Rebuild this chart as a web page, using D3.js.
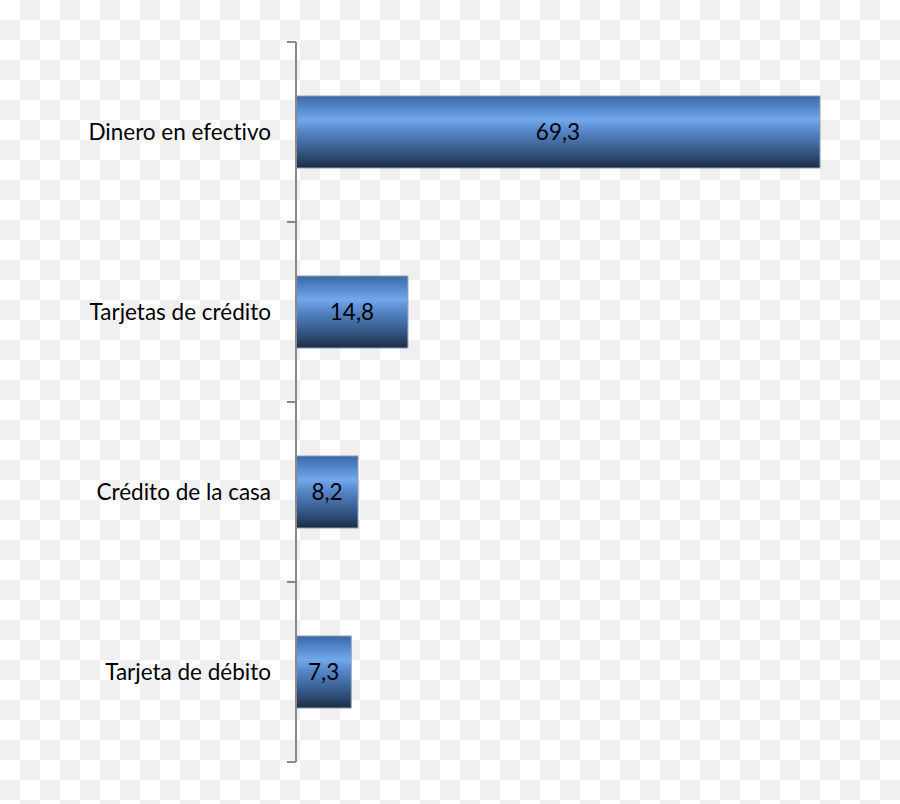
<!DOCTYPE html>
<html>
<head>
<meta charset="utf-8">
<script src="https://cdn.jsdelivr.net/npm/d3@7"></script>
<style>
  body { margin: 0; background: #fff; }
  svg { display: block; }
  text { font-variant-ligatures: none; }
</style>
</head>
<body>
<div class="chart"></div>
<script>
// data
var categories = ['Dinero en efectivo', 'Tarjetas de crédito', 'Crédito de la casa', 'Tarjeta de débito'];
var values = [69.3, 14.8, 8.2, 7.3];
var valueLabels = ['69,3', '14,8', '8,2', '7,3'];

var W = 900, H = 804;
var margin = {top: 42, left: 296, bottom: 42};

var svg = d3.select('.chart')
  .append('svg')
    .attr('width', W)
    .attr('height', H);

// transparent-background checkerboard
var defs = svg.append('defs');
var pat = defs.append('pattern')
    .attr('id', 'checker')
    .attr('width', 40).attr('height', 40)
    .attr('patternUnits', 'userSpaceOnUse');
pat.append('rect').attr('width', 40).attr('height', 40).attr('fill', '#ffffff');
pat.append('rect').attr('x', 20).attr('y', 0).attr('width', 20).attr('height', 20).attr('fill', '#f0f0f0');
pat.append('rect').attr('x', 0).attr('y', 20).attr('width', 20).attr('height', 20).attr('fill', '#f0f0f0');
svg.append('rect').attr('width', W).attr('height', H).attr('fill', 'url(#checker)');

// bar gradient (vertical "cylinder" look)
var grad = defs.append('linearGradient')
    .attr('id', 'barGrad')
    .attr('x1', 0).attr('y1', 0).attr('x2', 0).attr('y2', 1);
[['0%', '#3d67a2'], ['12%', '#4b80c4'], ['33%', '#72a8ec'], ['48%', '#5687c8'],
 ['70%', '#3d6497'], ['88%', '#2a4468'], ['100%', '#1b2a42']].forEach(function(s) {
  grad.append('stop').attr('offset', s[0]).attr('stop-color', s[1]);
});

var x = d3.scaleLinear()
    .domain([0, 70])
    .range([margin.left, 825.3]);

var y = d3.scaleBand()
    .domain(categories)
    .range([margin.top, H - margin.bottom])
    .paddingInner(0.6)
    .paddingOuter(0.3);

var rows = categories.map(function(c, i) {
  return {cat: c, value: values[i], label: valueLabels[i]};
});

svg.selectAll('.bar')
  .data(rows)
  .enter().append('rect')
    .attr('class', 'bar')
    .attr('x', x(0))
    .attr('y', d => y(d.cat))
    .attr('width', d => x(d.value) - x(0))
    .attr('height', y.bandwidth())
    .attr('fill', 'url(#barGrad)')
    .attr('stroke', '#8d9db3')
    .attr('stroke-width', 1);

svg.selectAll('.val')
  .data(rows)
  .enter().append('text')
    .attr('class', 'val')
    .attr('x', d => (x(0) + x(d.value)) / 2)
    .attr('y', d => y(d.cat) + y.bandwidth() / 2)
    .attr('dy', '0.35em')
    .attr('text-anchor', 'middle')
    .attr('font-family', 'Lato, "Open Sans", sans-serif')
    .attr('font-size', '22.5px')
    .attr('fill', '#000')
    .text(d => d.label);

// category axis with ticks between bands
var ticksY = d3.range(categories.length + 1).map(i => margin.top + i * y.step());
var axisG = svg.append('g').attr('class', 'axis y-axis');
axisG.append('line')
    .attr('x1', x(0)).attr('x2', x(0))
    .attr('y1', margin.top).attr('y2', H - margin.bottom)
    .attr('stroke', '#898989').attr('stroke-width', 2);
axisG.selectAll('.tick')
  .data(ticksY)
  .enter().append('line')
    .attr('class', 'tick')
    .attr('x1', x(0) - 9).attr('x2', x(0))
    .attr('y1', d => d).attr('y2', d => d)
    .attr('stroke', '#898989').attr('stroke-width', 2);

axisG.selectAll('.cat')
  .data(categories)
  .enter().append('text')
    .attr('class', 'cat')
    .attr('x', x(0) - 25)
    .attr('y', d => y(d) + y.bandwidth() / 2)
    .attr('dy', '0.35em')
    .attr('text-anchor', 'end')
    .attr('font-family', 'Lato, "Open Sans", sans-serif')
    .attr('font-size', '22.5px')
    .attr('fill', '#000')
    .text(d => d);
</script>
</body>
</html>
